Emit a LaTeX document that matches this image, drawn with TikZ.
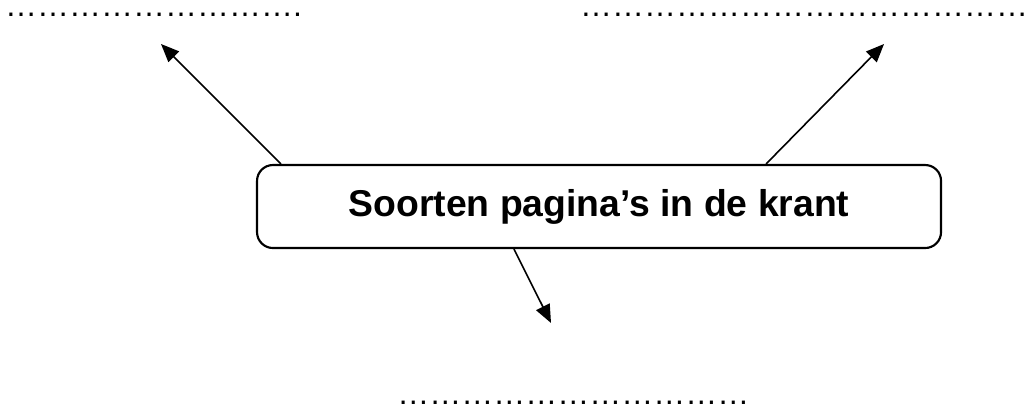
\documentclass[tikz,border=0pt]{standalone}
\usepackage{fontspec}
\setmainfont{Liberation Sans}
\usetikzlibrary{arrows.meta, calc}
\newcommand\puntjes[1]{\foreach \i in {1,...,#1}{…}}

\begin{document}
\begin{tikzpicture}[
    pijl/.style={line width=0.6pt, -{Triangle[length=6.8pt,width=5.6pt]}},
    stippel/.style={anchor=base west, inner sep=0pt, font=\fontsize{12pt}{14pt}\selectfont}]
      \useasboundingbox (0,0) rectangle (13.496,5.417);
      \node[draw, line width=0.8pt, rounded corners=0.21cm, minimum width=9.015cm,
        minimum height=1.094cm, inner sep=0pt, font=\fontsize{14pt}{17pt}\selectfont\bfseries]
        (krant) at (7.895,2.695) {Soorten pagina’s in de krant};
      % uiteinden van de pijlen
      \coordinate (links) at (2.122,4.837);
      \coordinate (rechts) at (11.651,4.837);
      \coordinate (onder) at (7.262,1.160);
      \draw[pijl] ($(krant.north west)+(0.33,0)$) -- (links);
      \draw[pijl] ($(krant.north east)+(-2.32,0)$) -- (rechts);
      \draw[pijl] ($(krant.south west)+(3.40,0)$) -- (onder);
      % invulregels
      \node[stippel] (invullinks) at (0.062,5.197) {\puntjes{9}.};
      \node[stippel] (invulrechts) at (7.640,5.197) {\puntjes{14}};
      \node[stippel] (invulonder) at (5.229,0.083) {\puntjes{11}};
  \end{tikzpicture}
\end{document}
